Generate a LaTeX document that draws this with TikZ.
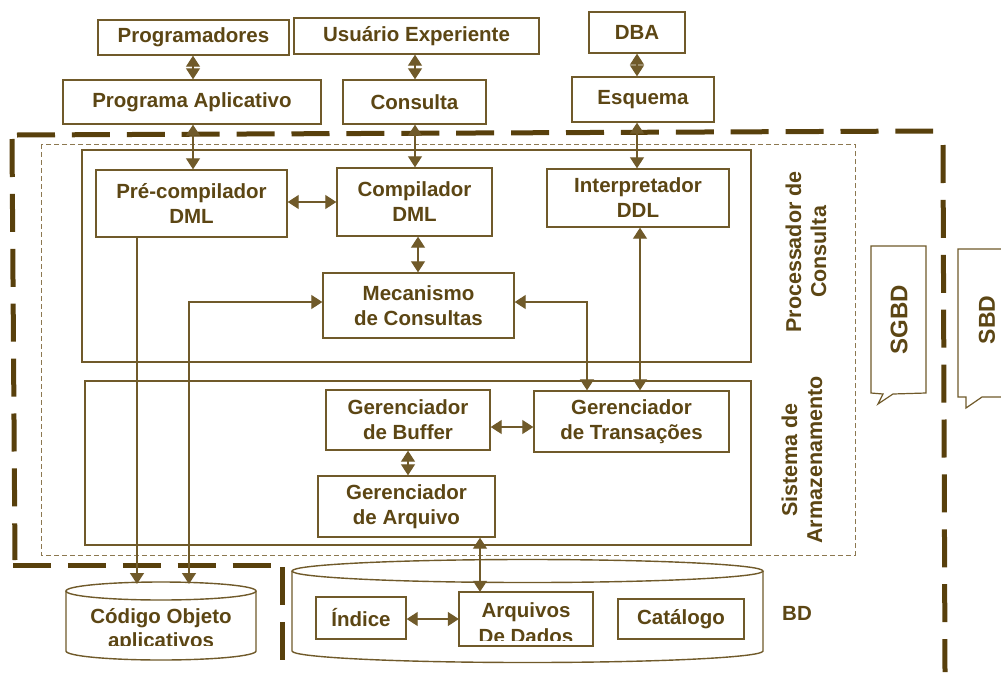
\documentclass[tikz,border=0pt]{standalone}
\usepackage{fontspec}
\setmainfont{Liberation Sans}
\usetikzlibrary{arrows.meta}

\definecolor{ink}{RGB}{92,70,20}
\definecolor{rule}{RGB}{112,90,42}
\definecolor{heavy}{RGB}{88,64,12}
\definecolor{faint}{RGB}{140,120,80}

% rectangular box given by its corners: name, x1, y1, x2, y2, text
\newcommand\bx[6]{%
  \node[box, minimum width={#4-#2}, minimum height={#5-#3}] (#1)
    at ({(#2+#4)/2},{(#3+#5)/2}) {#6};}

% cylinder outline: centre x, x radius, top y, bottom y, y radius
\newcommand\drum[5]{%
  \draw[boxline] (#1,#3) ellipse [x radius=#2, y radius=#5];
  \draw[boxline] ({#1-#2},#3) -- ({#1-#2},#4)
    .. controls ({#1-#2},{#4+0.5523*#5}) and ({#1-0.5523*#2},{#4+#5}) .. (#1,{#4+#5})
    .. controls ({#1+0.5523*#2},{#4+#5}) and ({#1+#2},{#4+0.5523*#5}) .. ({#1+#2},#4)
    -- ({#1+#2},#3);}

\begin{document}
\begin{tikzpicture}[x=1pt,y=-1pt,
  every node/.style={text=ink, font=\bfseries\fontsize{20.5}{25}\selectfont},
  boxline/.style={draw=rule, line width=1.4pt},
  box/.style={boxline, inner sep=0pt, align=center},
  sidelabel/.style={rotate=90, align=center, font=\bfseries\fontsize{21.5}{25}\selectfont},
  link/.style={draw=rule, line width=1.3pt},
  twoway/.style={link, {Triangle[length=11pt,width=14pt]}-{Triangle[length=11pt,width=14pt]}},
  oneway/.style={link, -{Triangle[length=11pt,width=14pt]}},
  heavydash/.style={draw=heavy, line width=5pt, dash pattern=on 38pt off 16.9pt},
  lightdash/.style={draw=faint, line width=1pt, dash pattern=on 5pt off 3pt}]

\useasboundingbox (0,0) rectangle (1001,672);
\fill[white] (0,0) rectangle (1001,672);
\clip (0,0) rectangle (1001,672);

% system boundaries
\draw[heavydash] (17,135) -- (933,131);
\draw[heavydash] (12,139) -- (15,560);
\draw[heavydash] (13,565) -- (272,565);
\draw[heavydash] (282,567) -- (282,672);
\draw[heavydash] (943,145) -- (945,672);
\draw[lightdash] (41,144) rectangle (855,555);

% module frames
\draw[boxline] (82,150) rectangle (751,362);
\draw[boxline] (85,381) rectangle (751,545);
\node[sidelabel] (pclabel) at (806,252) {Processador de\\Consulta};
\node[sidelabel] (salabel) at (802,460) {Sistema de\\Armazenamento};

% users and interfaces
\bx{prog}{98}{20}{289}{55}{Programadores}
\bx{usr}{294}{18}{539}{54}{Usuário Experiente}
\bx{dba}{589}{12}{685}{53}{DBA}
\bx{app}{63}{80}{321}{124}{Programa Aplicativo}
\bx{cons}{343}{80}{486}{124}{Consulta}
\bx{esq}{572}{77}{714}{122}{Esquema}

% query processor
\bx{precomp}{96}{170}{287}{237}{Pré-compilador\\DML}
\bx{comp}{337}{168}{492}{236}{Compilador\\DML}
\bx{interp}{547}{169}{729}{227}{Interpretador\\DDL}
\bx{mec}{323}{273}{514}{338}{Mecanismo\\de Consultas}

% storage system
\bx{buf}{326}{390}{490}{450}{Gerenciador\\de Buffer}
\bx{trans}{534}{391}{729}{452}{Gerenciador\\de Transações}
\bx{arqm}{318}{476}{495}{537}{Gerenciador\\de Arquivo}

% application object code, its second line cut by the cylinder base
\drum{161}{95}{591}{651}{9}
\coordinate (codtop) at (161,584);
\begin{scope}
  \clip (60,570) rectangle (262,645);
  \node[align=center, font=\bfseries\fontsize{20.5}{23.5}\selectfont] (codobj) at (161,630) {Código Objeto\\aplicativos};
\end{scope}

% database
\drum{527.5}{235.5}{571}{651}{11.5}
\bx{idx}{316}{597}{406}{639}{Índice}
\draw[boxline] (459,592) rectangle (593,646);
\begin{scope}
  \clip (459,592) rectangle (593,640);
  \node[align=center, font=\bfseries\fontsize{20.5}{26}\selectfont] (dadostxt) at (526,623.5) {Arquivos\\De Dados};
\end{scope}
\node[minimum width=134, minimum height=54, inner sep=0pt] (dadosbox) at (526,619) {};
\bx{cat}{618}{599}{744}{639}{Catálogo}
\node (bd) at (797,613) {BD};

% side callouts
\draw[boxline, line width=1.2pt] (871,246) -- (926,246) -- (926,393) -- (893,394)
  -- (878,404) -- (883,394) -- (871,393) -- cycle;
\node[rotate=90, font=\bfseries\fontsize{24}{28}\selectfont] (sgbd) at (899,320) {SGBD};
\draw[boxline, line width=1.2pt] (1012,249) -- (958,249) -- (958,397) -- (966,397)
  -- (966,408) -- (982,397) -- (1012,397);
\node[rotate=90, font=\bfseries\fontsize{23}{28}\selectfont] (sbd) at (987,320) {SBD};

% connector columns and rows
\coordinate (cA) at (193,0);
\coordinate (cB) at (415,0);
\coordinate (cC) at (637,0);
\coordinate (cD) at (418,0);
\coordinate (cE) at (640,0);
\coordinate (cF) at (587,0);
\coordinate (cG) at (408,0);
\coordinate (cH) at (480,0);
\coordinate (cI) at (137,0);
\coordinate (cJ) at (189,0);
\coordinate (rA) at (0,202);
\coordinate (rB) at (0,302);
\coordinate (rC) at (0,427);
\coordinate (rD) at (0,619);

% connectors
\draw[twoway] (prog.south -| cA) -- (app.north -| cA);
\draw[twoway] (usr.south -| cB) -- (cons.north -| cB);
\draw[twoway] (dba.south -| cC) -- (esq.north -| cC);
\draw[twoway] (app.south -| cA) -- (precomp.north -| cA);
\draw[twoway] (cons.south -| cB) -- (comp.north -| cB);
\draw[twoway] (esq.south -| cC) -- (interp.north -| cC);
\draw[twoway] (precomp.east |- rA) -- (comp.west |- rA);
\draw[twoway] (comp.south -| cD) -- (mec.north -| cD);
\draw[twoway] (interp.south -| cE) -- (trans.north -| cE);
\draw[twoway] (mec.east |- rB) -| (trans.north -| cF);
\draw[twoway] (buf.east |- rC) -- (trans.west |- rC);
\draw[twoway] (buf.south -| cG) -- (arqm.north -| cG);
\draw[twoway] (arqm.south -| cH) -- (dadosbox.north -| cH);
\draw[twoway] (idx.east |- rD) -- (dadosbox.west |- rD);
\draw[oneway] (precomp.south -| cI) -- (codtop -| cI);
\draw[twoway] (codtop -| cJ) |- (mec.west |- rB);
\end{tikzpicture}
\end{document}
